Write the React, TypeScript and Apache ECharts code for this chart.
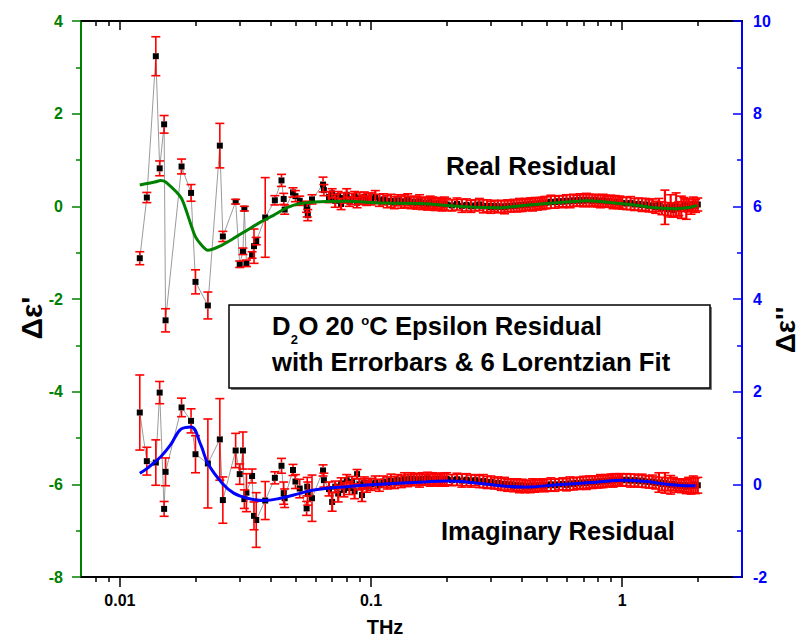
import React, { useEffect, useRef } from 'react';
import * as echarts from 'echarts';

const FONT = '"Liberation Sans", Arial, sans-serif';

// x-axis tick values (THz)
const xMajorTicks = [0.01, 0.1, 1];
const xMinorTicks = [0.008, 0.009, 0.02, 0.03, 0.04, 0.05, 0.06, 0.07, 0.08, 0.09, 0.2, 0.3, 0.4, 0.5, 0.6, 0.7, 0.8, 0.9, 2];

// low-frequency (sparse) measured points
const sparseFreq = [0.012, 0.0128, 0.0139, 0.0144, 0.015, 0.0152, 0.0176, 0.0192, 0.02, 0.0224, 0.025, 0.0257, 0.0289, 0.03, 0.0309, 0.0313, 0.0319, 0.0336, 0.0342, 0.0349, 0.0379, 0.0414, 0.044, 0.0449, 0.0453, 0.0489, 0.05, 0.052, 0.0554, 0.0557, 0.056, 0.0582, 0.0644, 0.0649];
const realSparse = [-1.12, 0.19, 3.24, 0.82, 1.77, -2.46, 0.86, 0.29, -1.63, -2.14, 1.31, -0.65, 0.10, -1.25, -0.97, -0.05, -1.23, -1.05, -0.86, -0.75, -0.24, 0.13, 0.56, 0.16, -0.07, 0.30, 0.22, 0.12, -0.01, -0.08, -0.19, 0.15, 0.47, 0.35];
const realSparseErr = [0.14, 0.11, 0.42, 0.16, 0.19, 0.25, 0.16, 0.18, 0.26, 0.29, 0.48, 0.11, 0.05, 0.07, 0.07, 0.05, 0.07, 0.07, 0.37, 0.08, 0.86, 0.10, 0.13, 0.12, 0.10, 0.10, 0.12, 0.10, 0.12, 0.15, 0.12, 0.10, 0.16, 0.12];
const imagSparse = [1.55, 0.50, 0.47, 1.98, -0.53, 0.27, 1.66, 1.37, 0.65, 0.45, 0.97, -0.34, 0.73, 0.22, 0.73, -0.32, -0.18, 0.18, -0.68, -0.77, -0.35, 0.14, 0.40, -0.19, -0.30, 0.31, 0.06, -0.09, -0.52, -0.05, -0.20, -0.30, 0.30, 0.09];
const imagSparseErr = [0.81, 0.30, 0.49, 0.24, 0.16, 0.30, 0.20, 0.26, 0.40, 0.96, 0.88, 0.50, 0.37, 0.22, 0.40, 0.20, 0.41, 0.15, 0.30, 0.59, 0.41, 0.13, 0.16, 0.24, 0.20, 0.12, 0.15, 0.20, 0.15, 0.20, 0.25, 0.50, 0.12, 0.15];

// high-frequency (dense) measured points
const denseFreq = [
  0.068, 0.07, 0.072, 0.074, 0.076, 0.078, 0.08, 0.082, 0.084, 0.086, 0.088, 0.09, 0.092, 0.094, 0.096, 0.098,
  0.1, 0.104, 0.108, 0.112, 0.116, 0.12, 0.124, 0.128, 0.132, 0.136, 0.14, 0.144, 0.148, 0.152, 0.156, 0.16, 0.164, 0.168, 0.172, 0.176, 0.18, 0.184, 0.188, 0.192, 0.196,
  0.2, 0.21, 0.22, 0.23, 0.24, 0.25, 0.26, 0.27, 0.28, 0.29, 0.3, 0.31, 0.32, 0.33, 0.34, 0.35, 0.36, 0.37, 0.38, 0.39, 0.4, 0.41, 0.42, 0.43, 0.44, 0.45, 0.46, 0.47, 0.48, 0.49,
  0.5, 0.52, 0.54, 0.56, 0.58, 0.6, 0.62, 0.64, 0.66, 0.68, 0.7, 0.72, 0.74, 0.76, 0.78, 0.8, 0.82, 0.84, 0.86, 0.88, 0.9, 0.92, 0.94, 0.96, 0.98,
  1, 1.04, 1.08, 1.12, 1.16, 1.2, 1.24, 1.28, 1.32, 1.36, 1.4, 1.44, 1.48, 1.52, 1.56, 1.6, 1.64, 1.68, 1.72, 1.76, 1.8, 1.84, 1.88, 1.92, 1.96, 2,
];
const realDense = [
  0.20, 0.28, 0.12, 0.22, 0.05, 0.18, 0.25, 0.10, 0.16, 0.22, 0.08, 0.18, 0.14, 0.20, 0.12, 0.17,
  0.16, 0.20, 0.13, 0.15, 0.10, 0.12, 0.08, 0.13, 0.09, 0.11, 0.14, 0.08, 0.10, 0.07, 0.11, 0.06, 0.08, 0.05, 0.09, 0.06, 0.04, 0.07, 0.05, 0.03, 0.06,
  0.04, 0.02, 0.05, 0.01, 0.03, 0.00, 0.02, 0.04, 0.00, 0.01, -0.02, 0.01, -0.01, 0.00, -0.02, 0.01, 0.00, 0.02, 0.01, 0.03, 0.02, 0.04, 0.03, 0.05, 0.04, 0.06, 0.05, 0.07, 0.06, 0.08,
  0.08, 0.10, 0.09, 0.11, 0.10, 0.12, 0.11, 0.13, 0.12, 0.14, 0.12, 0.14, 0.13, 0.12, 0.14, 0.12, 0.11, 0.13, 0.11, 0.10, 0.11, 0.09, 0.10, 0.08, 0.09,
  0.07, 0.06, 0.07, 0.04, 0.05, 0.03, 0.04, 0.01, 0.02, -0.02, 0.03, -0.04, -0.02, -0.06, 0.01, -0.08, 0.03, -0.05, -0.02, 0.04, -0.06, 0.02, -0.03, 0.05, 0.01, 0.04,
];
const realDenseErr = [
  0.12, 0.10, 0.14, 0.10, 0.12, 0.11, 0.13, 0.10, 0.12, 0.10, 0.11, 0.12, 0.10, 0.11, 0.10, 0.11,
  0.13, 0.14, 0.13, 0.12, 0.13, 0.14, 0.13, 0.12, 0.13, 0.14, 0.13, 0.13, 0.12, 0.13, 0.14, 0.13, 0.12, 0.13, 0.13, 0.14, 0.13, 0.12, 0.13, 0.13, 0.14,
  0.13, 0.12, 0.13, 0.14, 0.13, 0.13, 0.12, 0.13, 0.14, 0.13, 0.13, 0.12, 0.13, 0.13, 0.14, 0.13, 0.12, 0.13, 0.13, 0.14, 0.13, 0.13, 0.12, 0.13, 0.14, 0.13, 0.13, 0.12, 0.13, 0.13,
  0.13, 0.14, 0.13, 0.12, 0.13, 0.13, 0.14, 0.13, 0.12, 0.13, 0.13, 0.14, 0.13, 0.13, 0.12, 0.13, 0.14, 0.13, 0.13, 0.12, 0.13, 0.14, 0.13, 0.13, 0.13,
  0.13, 0.13, 0.14, 0.13, 0.13, 0.14, 0.13, 0.13, 0.14, 0.13, 0.14, 0.14, 0.37, 0.14, 0.24, 0.15, 0.26, 0.15, 0.24, 0.15, 0.22, 0.14, 0.14, 0.15, 0.14, 0.14,
];
const imagDense = [
  -0.10, -0.38, -0.05, -0.20, 0.02, -0.12, 0.09, -0.08, 0.05, -0.15, 0.22, 0.00, -0.23, 0.04, -0.05, 0.02,
  0.00, 0.04, -0.02, 0.06, 0.03, 0.08, 0.04, 0.09, 0.06, 0.11, 0.08, 0.12, 0.09, 0.11, 0.08, 0.12, 0.10, 0.13, 0.09, 0.11, 0.10, 0.12, 0.09, 0.11, 0.10,
  0.12, 0.09, 0.11, 0.08, 0.10, 0.07, 0.09, 0.06, 0.07, 0.04, 0.05, 0.02, 0.03, 0.00, 0.01, -0.02, 0.00, -0.03, -0.01, -0.04, -0.02, -0.05, -0.03, -0.05, -0.02, -0.04, -0.02, -0.03, -0.01, -0.03,
  -0.02, 0.00, -0.02, 0.00, 0.01, -0.01, 0.02, 0.01, 0.03, 0.02, 0.04, 0.03, 0.05, 0.04, 0.06, 0.05, 0.07, 0.06, 0.08, 0.07, 0.09, 0.08, 0.10, 0.09, 0.10,
  0.09, 0.10, 0.08, 0.09, 0.07, 0.08, 0.06, 0.05, 0.06, 0.03, 0.04, 0.01, 0.03, 0.00, -0.01, 0.01, -0.03, -0.01, -0.04, -0.02, -0.05, -0.02, -0.04, 0.00, -0.03, -0.02,
];
const imagDenseErr = [
  0.15, 0.20, 0.12, 0.18, 0.12, 0.15, 0.12, 0.14, 0.12, 0.16, 0.10, 0.12, 0.14, 0.12, 0.12, 0.10,
  0.13, 0.14, 0.13, 0.12, 0.13, 0.14, 0.13, 0.12, 0.13, 0.14, 0.13, 0.13, 0.12, 0.13, 0.14, 0.13, 0.12, 0.13, 0.13, 0.14, 0.13, 0.12, 0.13, 0.13, 0.14,
  0.13, 0.12, 0.13, 0.14, 0.13, 0.13, 0.12, 0.13, 0.14, 0.13, 0.13, 0.12, 0.13, 0.13, 0.14, 0.13, 0.12, 0.13, 0.13, 0.14, 0.13, 0.13, 0.12, 0.13, 0.14, 0.13, 0.13, 0.12, 0.13, 0.13,
  0.13, 0.14, 0.13, 0.12, 0.13, 0.13, 0.14, 0.13, 0.12, 0.13, 0.13, 0.14, 0.13, 0.13, 0.12, 0.13, 0.14, 0.13, 0.13, 0.12, 0.13, 0.14, 0.13, 0.13, 0.13,
  0.13, 0.13, 0.14, 0.13, 0.13, 0.14, 0.13, 0.13, 0.14, 0.13, 0.21, 0.14, 0.22, 0.14, 0.20, 0.14, 0.14, 0.13, 0.14, 0.14, 0.15, 0.17, 0.17, 0.18, 0.17, 0.17,
];

// 6-Lorentzian fits
const realFitFreq = [0.012, 0.0139, 0.0145, 0.0152, 0.0176, 0.02, 0.0224, 0.025, 0.0284, 0.0322, 0.0363, 0.041, 0.0463, 0.0524, 0.063, 0.0804, 0.109, 0.157, 0.189, 0.2415, 0.328, 0.405, 0.551, 0.726, 0.871, 1.079, 1.297, 1.466, 1.657, 1.87, 1.99];
const realFit = [0.46, 0.53, 0.56, 0.53, 0.17, -0.66, -0.95, -0.86, -0.69, -0.51, -0.34, -0.19, -0.03, 0.06, 0.10, 0.11, 0.07, 0.06, 0.03, -0.01, -0.03, 0.02, 0.08, 0.12, 0.09, 0.04, -0.02, -0.04, -0.05, -0.02, 0.02];
const imagFitFreq = [0.012, 0.0128, 0.0145, 0.0159, 0.0175, 0.0192, 0.021, 0.0224, 0.0256, 0.0284, 0.0322, 0.0374, 0.0436, 0.0524, 0.0592, 0.0804, 0.109, 0.148, 0.201, 0.273, 0.328, 0.405, 0.551, 0.748, 1.015, 1.257, 1.51, 1.87, 1.96];
const imagFit = [0.24, 0.34, 0.59, 0.85, 1.19, 1.24, 0.85, 0.45, 0.02, -0.19, -0.30, -0.35, -0.30, -0.19, -0.12, -0.05, 0.00, 0.04, 0.07, 0.02, -0.03, -0.06, -0.01, 0.04, 0.09, 0.06, 0.00, -0.03, -0.03];

const GREEN = '#008000';
const BLUE = '#0000ff';
const RED = '#ff0000';

function triples(f: number[], v: number[], e: number[]) {
  return f.map((x, i) => [x, v[i], e[i]]);
}

function errorSeries(data: number[][], yAxisIndex: number) {
  const nSparse = sparseFreq.length;
  return {
    type: 'custom',
    yAxisIndex,
    z: 3,
    silent: true,
    encode: { x: 0, y: 1 },
    data,
    renderItem: (params: any, api: any) => {
      const x = api.value(0);
      const y = api.value(1);
      const e = api.value(2);
      const c = api.coord([x, y]);
      const hi = api.coord([x, y + e]);
      const lo = api.coord([x, y - e]);
      const cap = 4.5;
      const dense = params.dataIndex >= nSparse;
      const gap = dense ? 0 : 3;
      const style = { stroke: RED, lineWidth: 1.6, fill: null };
      const vstyle = { stroke: RED, lineWidth: dense ? 2.2 : 1.6, fill: null };
      const children: any[] = [
        { type: 'line', shape: { x1: hi[0] - cap, y1: hi[1], x2: hi[0] + cap, y2: hi[1] }, style },
        { type: 'line', shape: { x1: lo[0] - cap, y1: lo[1], x2: lo[0] + cap, y2: lo[1] }, style },
      ];
      if (dense) {
        children.push({ type: 'line', shape: { x1: c[0], y1: hi[1], x2: c[0], y2: lo[1] }, style: vstyle });
      } else {
        if (c[1] - hi[1] > gap) children.push({ type: 'line', shape: { x1: c[0], y1: hi[1], x2: c[0], y2: c[1] - gap }, style: vstyle });
        if (lo[1] - c[1] > gap) children.push({ type: 'line', shape: { x1: c[0], y1: c[1] + gap, x2: c[0], y2: lo[1] }, style: vstyle });
      }
      return { type: 'group', children };
    },
  };
}

function pointSeries(data: number[][], yAxisIndex: number) {
  return {
    type: 'line',
    yAxisIndex,
    z: 2,
    silent: true,
    data: data.map((d) => [d[0], d[1]]),
    symbol: 'rect',
    symbolSize: 6,
    showSymbol: true,
    itemStyle: { color: '#000' },
    lineStyle: { color: '#808080', width: 0.8 },
  };
}

const xBase = (position: string, len: number, inside: boolean, ticks: number[], labels: boolean) => ({
  type: 'log',
  logBase: 10,
  min: 0.007,
  max: 3,
  position,
  splitLine: { show: false },
  axisLine: { show: true, onZero: false, lineStyle: { color: '#000', width: 2 } },
  axisTick: { show: true, inside, length: len, customValues: ticks, lineStyle: { color: '#000', width: 1.5 } },
  axisLabel: labels
    ? { show: true, customValues: xMajorTicks, formatter: (v: number) => String(v), color: '#000', fontWeight: 'bold', fontSize: 16, fontFamily: FONT, margin: 15 }
    : { show: false },
});

export default function App() {
  const ref = useRef<HTMLDivElement>(null);
  useEffect(() => {
    if (!ref.current) return;
    const chart = echarts.init(ref.current, null, { renderer: 'svg' });
    const realData = triples(sparseFreq, realSparse, realSparseErr).concat(triples(denseFreq, realDense, realDenseErr));
    const imagData = triples(sparseFreq, imagSparse, imagSparseErr).concat(triples(denseFreq, imagDense, imagDenseErr));
    const txt = (text: string, x: number, y: number, size: number, extra: any = {}) => ({
      type: 'text', x, y, z: 100, silent: true, ...extra,
      style: { text, fill: '#000', fontSize: size, fontWeight: 'bold', fontFamily: FONT, align: 'left', verticalAlign: 'middle', ...(extra.style || {}) },
    });
    const BOX_FS = 25.7;
    chart.setOption({
      animation: false,
      backgroundColor: '#fff',
      grid: { left: 81, right: 62, top: 21, bottom: 60, containLabel: false },
      xAxis: [
        xBase('bottom', 10, false, xMajorTicks, true),
        xBase('bottom', 5, false, xMinorTicks, false),
        xBase('top', 9, true, xMajorTicks, false),
        xBase('top', 5, true, xMinorTicks, false),
      ],
      yAxis: [
        {
          type: 'value', min: -8, max: 4, interval: 2, position: 'left',
          splitLine: { show: false },
          axisLine: { show: true, onZero: false, lineStyle: { color: GREEN, width: 2 } },
          axisTick: { show: true, inside: false, length: 9, lineStyle: { color: GREEN, width: 1.5 } },
          minorTick: { show: true, splitNumber: 2, length: 5, lineStyle: { color: GREEN, width: 1.5 } },
          axisLabel: { color: GREEN, fontWeight: 'bold', fontSize: 16, fontFamily: FONT, margin: 18 },
        },
        {
          type: 'value', min: -2, max: 10, interval: 2, position: 'right',
          splitLine: { show: false },
          axisLine: { show: true, onZero: false, lineStyle: { color: BLUE, width: 2 } },
          axisTick: { show: true, inside: true, length: 9, lineStyle: { color: BLUE, width: 1.5 } },
          minorTick: { show: true, splitNumber: 2, length: 5, lineStyle: { color: BLUE, width: 1.5 } },
          axisLabel: { color: BLUE, fontWeight: 'bold', fontSize: 16, fontFamily: FONT, margin: 11 },
        },
      ],
      series: [
        pointSeries(realData, 0),
        pointSeries(imagData, 1),
        errorSeries(realData, 0),
        errorSeries(imagData, 1),
        {
          type: 'line', yAxisIndex: 0, z: 5, silent: true, symbol: 'none', smooth: 0.2,
          data: realFitFreq.map((f, i) => [f, realFit[i]]),
          lineStyle: { color: GREEN, width: 3 },
        },
        {
          type: 'line', yAxisIndex: 1, z: 5, silent: true, symbol: 'none', smooth: 0.4,
          data: imagFitFreq.map((f, i) => [f, imagFit[i]]),
          lineStyle: { color: BLUE, width: 3 },
        },
      ],
      graphic: [
        txt("Δε'", 31, 318, 30, { rotation: Math.PI / 2, style: { align: 'center' } }),
        txt("Δε''", 785, 330, 28, { rotation: Math.PI / 2, style: { align: 'center' } }),
        txt('THz', 385, 627, 20, { style: { align: 'center' } }),
        txt('Real Residual', 446, 166, 26),
        txt('Imaginary Residual', 441, 531, 25.5),
        { type: 'rect', z: 90, silent: true, shape: { x: 231, y: 307, width: 481, height: 83 }, style: { fill: '#808080' } },
        { type: 'rect', z: 91, silent: true, shape: { x: 229, y: 305, width: 481, height: 83 }, style: { fill: '#fff', stroke: '#000', lineWidth: 1.5 } },
        txt('D', 272, 326, BOX_FS),
        txt('2', 290.8, 339, 13),
        txt('O 20 ', 298.4, 326, BOX_FS),
        txt('o', 361.3, 320, 13),
        txt('C Epsilon Residual', 369.2, 326, BOX_FS),
        txt('with Errorbars & 6 Lorentzian Fit', 272, 362, BOX_FS),
      ],
    });
    return () => chart.dispose();
  }, []);
  return <div ref={ref} style={{ position: 'fixed', left: 0, top: 0, width: 804, height: 637 }} />;
}
